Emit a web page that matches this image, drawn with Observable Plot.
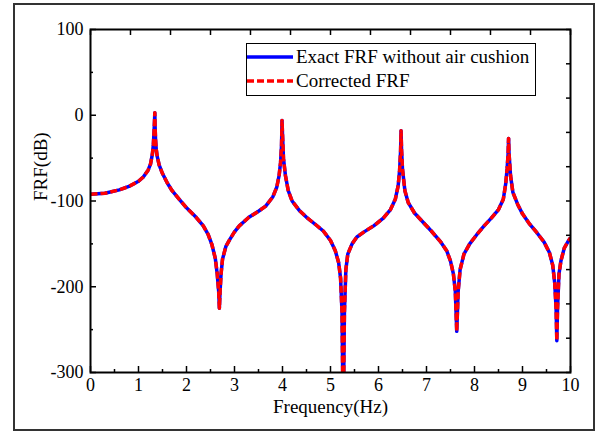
<!DOCTYPE html>
<html>
<head>
<meta charset="utf-8">
<script src="https://cdn.jsdelivr.net/npm/d3@7"></script>
<script src="https://cdn.jsdelivr.net/npm/@observablehq/plot@0.6"></script>
<style>
  html, body { margin: 0; padding: 0; background: #fff; }
  #wrap { position: relative; width: 598px; height: 432px; font-family: "Liberation Serif", "Times New Roman", serif; }
  #outer { position: absolute; left: 13px; top: 3px; width: 578px; height: 424px; border: 2px solid #333; pointer-events: none; }
  #legend { position: absolute; left: 246px; top: 43px; width: 288px; height: 51px; border: 1.5px solid #000; background: #fff; }
  #legend .row { position: absolute; left: 0px; height: 20px; display: flex; align-items: center; font-size: 19px; color: #000; white-space: nowrap; }
  #legend svg { display: block; margin-right: 3px; }
</style>
</head>
<body>
<div id="wrap">
  <div id="chart"></div>
  <div id="outer"></div>
  <div id="legend"></div>
</div>
<script>
// Frequency (Hz) samples and FRF values (dB)
const frequency = [
  0.0, 0.3, 0.6, 0.8, 1.0, 1.1, 1.2, 1.25, 1.29, 1.31, 1.325, 1.335, 1.34, 1.345, 1.355, 1.37, 1.39, 1.43, 1.5, 1.6, 1.7, 1.85,
  2.0, 2.2, 2.35, 2.45, 2.53, 2.6, 2.64, 2.67, 2.685, 2.70, 2.72, 2.75, 2.82, 2.9, 3.0, 3.1, 3.3, 3.5, 3.65, 3.8, 3.88, 3.93,
  3.96, 3.98, 3.99, 4.0, 4.02, 4.06, 4.12, 4.2, 4.35, 4.5, 4.7, 4.85, 5.0, 5.1, 5.17, 5.21, 5.24, 5.265, 5.29, 5.32, 5.36,
  5.45, 5.55, 5.7, 5.9, 6.1, 6.25, 6.35, 6.41, 6.44, 6.46, 6.47, 6.48, 6.5, 6.55, 6.62, 6.75, 6.9, 7.1, 7.3, 7.42, 7.5, 7.56,
  7.6, 7.63, 7.66, 7.7, 7.78, 7.9, 8.05, 8.2, 8.35, 8.5, 8.6, 8.65, 8.68, 8.70, 8.71, 8.72, 8.75, 8.8, 8.9, 9.0, 9.15, 9.3,
  9.45, 9.56, 9.63, 9.67, 9.70, 9.715, 9.73, 9.76, 9.8, 9.87, 9.95, 10.0
];
const exactFRF = [
  -92, -91, -87, -83, -77, -72, -64, -57, -45, -34, -18, -5, 3, -12, -28, -40, -48, -58, -68, -79, -88, -98,
  -108, -119, -129, -139, -151, -167, -185, -205, -225, -205, -185, -168, -153, -145, -136, -129, -119, -112, -106, -95, -84, -70,
  -55, -35, -6, -22, -50, -70, -88, -100, -111, -119, -128, -135, -146, -158, -172, -190, -230, -360, -230, -180, -162,
  -150, -142, -136, -129, -120, -110, -98, -82, -64, -42, -18, -40, -63, -88, -102, -114, -123, -135, -148, -158, -170, -185,
  -205, -252, -205, -180, -162, -150, -139, -129, -120, -110, -98, -80, -62, -45, -27, -45, -70, -90, -104, -115, -127, -137,
  -148, -160, -175, -195, -225, -263, -225, -185, -170, -155, -147, -143
];
const correctedFRF = [
  -92, -91, -87, -83, -77, -72, -64, -57, -45, -34, -18, -5, 3, -12, -28, -40, -48, -58, -68, -79, -88, -98,
  -108, -119, -129, -139, -151, -167, -185, -205, -225, -205, -185, -168, -153, -145, -136, -129, -119, -112, -106, -95, -84, -70,
  -55, -35, -6, -22, -50, -70, -88, -100, -111, -119, -128, -135, -146, -158, -172, -190, -230, -360, -230, -180, -162,
  -150, -142, -136, -129, -120, -110, -98, -82, -64, -42, -18, -40, -63, -88, -102, -114, -123, -135, -148, -158, -170, -185,
  -205, -252, -205, -180, -162, -150, -139, -129, -120, -110, -98, -80, -62, -45, -27, -45, -70, -90, -104, -115, -127, -137,
  -148, -160, -175, -195, -225, -263, -225, -185, -170, -155, -147, -143
];

// Ticks
const xTicks = [0, 1, 2, 3, 4, 5, 6, 7, 8, 9, 10];
const xMinorTicks = [0.5, 1.5, 2.5, 3.5, 4.5, 5.5, 6.5, 7.5, 8.5, 9.5];
const yTicks = [100, 0, -100, -200, -300];
const yMinorTicks = [50, -50, -150, -250];
const topTicks = [0, 0.833, 1.667, 2.5, 3.333, 4.167, 5, 5.833, 6.667, 7.5, 8.333, 9.167, 10];
const rightTicks = [100, 60, 20, -20, -60, -100, -140, -180, -220, -260, -300];

const seriesNames = ["Exact FRF without air cushion", "Corrected FRF"];
const seriesColors = ["#0000ff", "#ff0000"];

const exactData = frequency.map((f, i) => ({f, v: exactFRF[i]}));
const correctedData = frequency.map((f, i) => ({f, v: correctedFRF[i]}));

const fmt = d => String(d);
const none = () => "";

const chart = Plot.plot({
  width: 598,
  height: 432,
  marginLeft: 90,
  marginRight: 28,
  marginTop: 29,
  marginBottom: 60,
  style: {fontFamily: "Liberation Serif, Times New Roman, serif", fontSize: "18px", color: "#000", background: "transparent"},
  x: {domain: [0, 10]},
  y: {domain: [-300, 100]},
  marks: [
    Plot.line(exactData, {x: "f", y: "v", stroke: seriesColors[0], strokeWidth: 3.5, strokeLinecap: "butt", clip: true}),
    Plot.line(correctedData, {x: "f", y: "v", stroke: seriesColors[1], strokeWidth: 3.5, strokeLinecap: "butt", strokeDasharray: "7,3", clip: true}),
    // tick labels
    Plot.axisX(xTicks, {anchor: "bottom", tickSize: 0, tickPadding: 6, tickFormat: fmt, label: null}),
    Plot.axisY(yTicks, {anchor: "left", tickSize: 0, tickPadding: 7, tickFormat: fmt, label: null}),
    // inward ticks
    Plot.axisX(xTicks, {anchor: "bottom", tickSize: 6, dy: -6, tickFormat: none, label: null, strokeWidth: 1.5}),
    Plot.axisX(xMinorTicks, {anchor: "bottom", tickSize: 3, dy: -3, tickFormat: none, label: null, strokeWidth: 1.5}),
    Plot.axisX(topTicks, {anchor: "top", tickSize: 5, dy: 5, tickFormat: none, label: null, strokeWidth: 1.5}),
    Plot.axisY(yTicks, {anchor: "left", tickSize: 6, dx: 6, tickFormat: none, label: null, strokeWidth: 1.5}),
    Plot.axisY(yMinorTicks, {anchor: "left", tickSize: 3, dx: 3, tickFormat: none, label: null, strokeWidth: 1.5}),
    Plot.axisY(rightTicks, {anchor: "right", tickSize: 5, dx: -5, tickFormat: none, label: null, strokeWidth: 1.5}),
    Plot.frame({stroke: "#000", strokeWidth: 2}),
    Plot.text(["Frequency(Hz)"], {frameAnchor: "bottom", dy: 40, fontSize: 19, fill: "#000"}),
    Plot.text(["FRF(dB)"], {frameAnchor: "left", dx: -50, rotate: -90, fontSize: 19, fill: "#000"})
  ]
});
document.getElementById("chart").appendChild(chart);

// Legend
const legend = document.getElementById("legend");
seriesNames.forEach((name, i) => {
  const row = document.createElement("div");
  row.className = "row";
  row.style.top = (i === 0 ? 3 : 26.5) + "px";
  const dash = i === 1 ? ' stroke-dasharray="7,3"' : '';
  row.innerHTML = `<svg width="46" height="8"><line x1="0" y1="4" x2="46" y2="4" stroke="${seriesColors[i]}" stroke-width="3.5"${dash}/></svg><span>${name}</span>`;
  legend.appendChild(row);
});
</script>
</body>
</html>
